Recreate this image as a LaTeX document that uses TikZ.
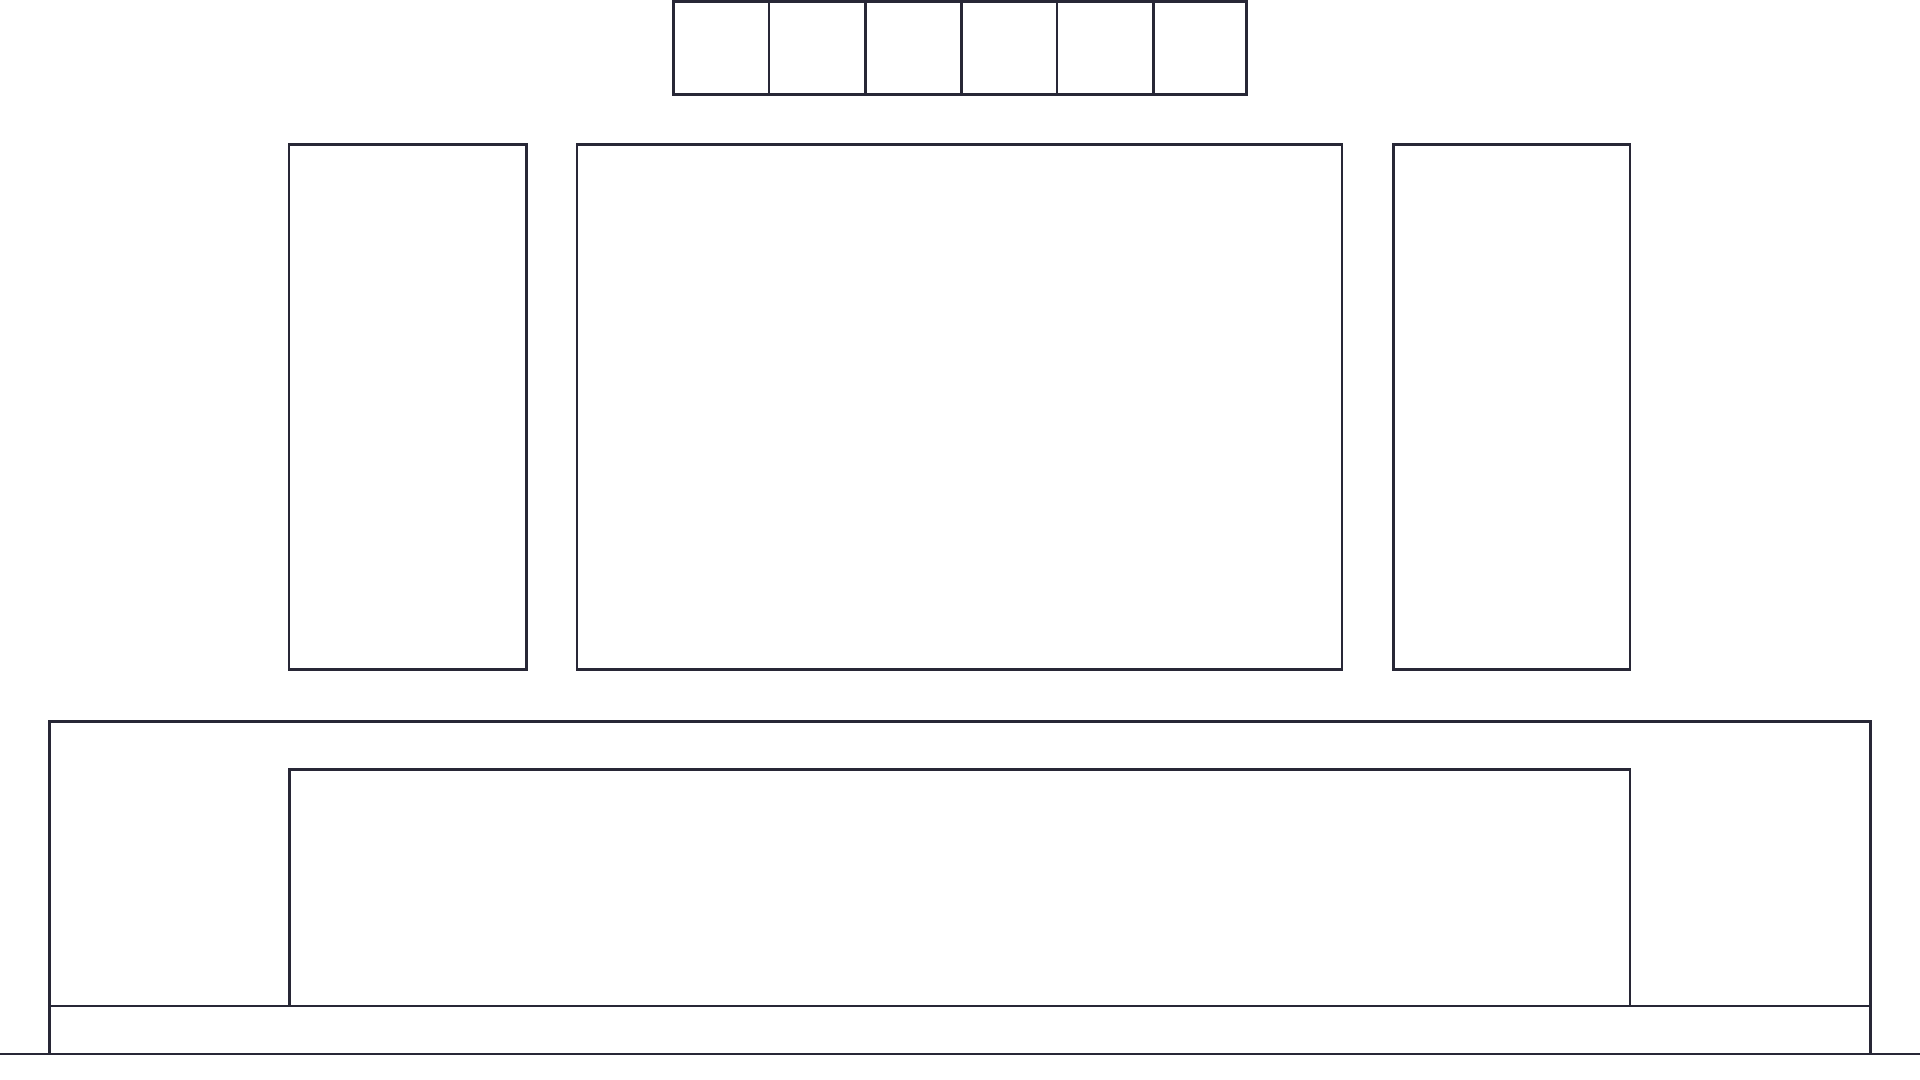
\documentclass[tikz,border=0pt]{standalone}
\usepackage{tikz}
\usepackage{xcolor}
\definecolor{inkline}{RGB}{40,39,54}

\begin{document}
\begin{tikzpicture}[x=0.01cm,y=-0.01cm,
  ln/.style={draw=inkline,line width=0.75pt},
  panel/.style={ln,line join=miter}]
  \useasboundingbox (0,0) rectangle (1920,1080);
  % top strip of six cells
  \draw[panel] (673.5,1.5) rectangle (1246.5,94.3);
  \foreach \xx in {769,865.5,961.3,1057,1153.5}
    \draw[ln] (\xx,1.5) -- (\xx,94.3);
  % wall panels
  \draw[panel] (289,144.5) rectangle (526.5,669.8);
  \draw[panel] (577,144.5) rectangle (1342,669.8);
  \draw[panel] (1393.5,144.5) rectangle (1630,669.8);
  % cabinet
  \draw[panel] (49.3,721.3) rectangle (1870.5,1054);
  \draw[panel] (289.3,769.5) -- (1630,769.5) -- (1630,1006) -- (289.3,1006) -- cycle;
  \draw[ln] (49.3,1006) -- (1870.5,1006);
  % floor
  \draw[ln] (0,1054) -- (1920,1054);
\end{tikzpicture}
\end{document}
